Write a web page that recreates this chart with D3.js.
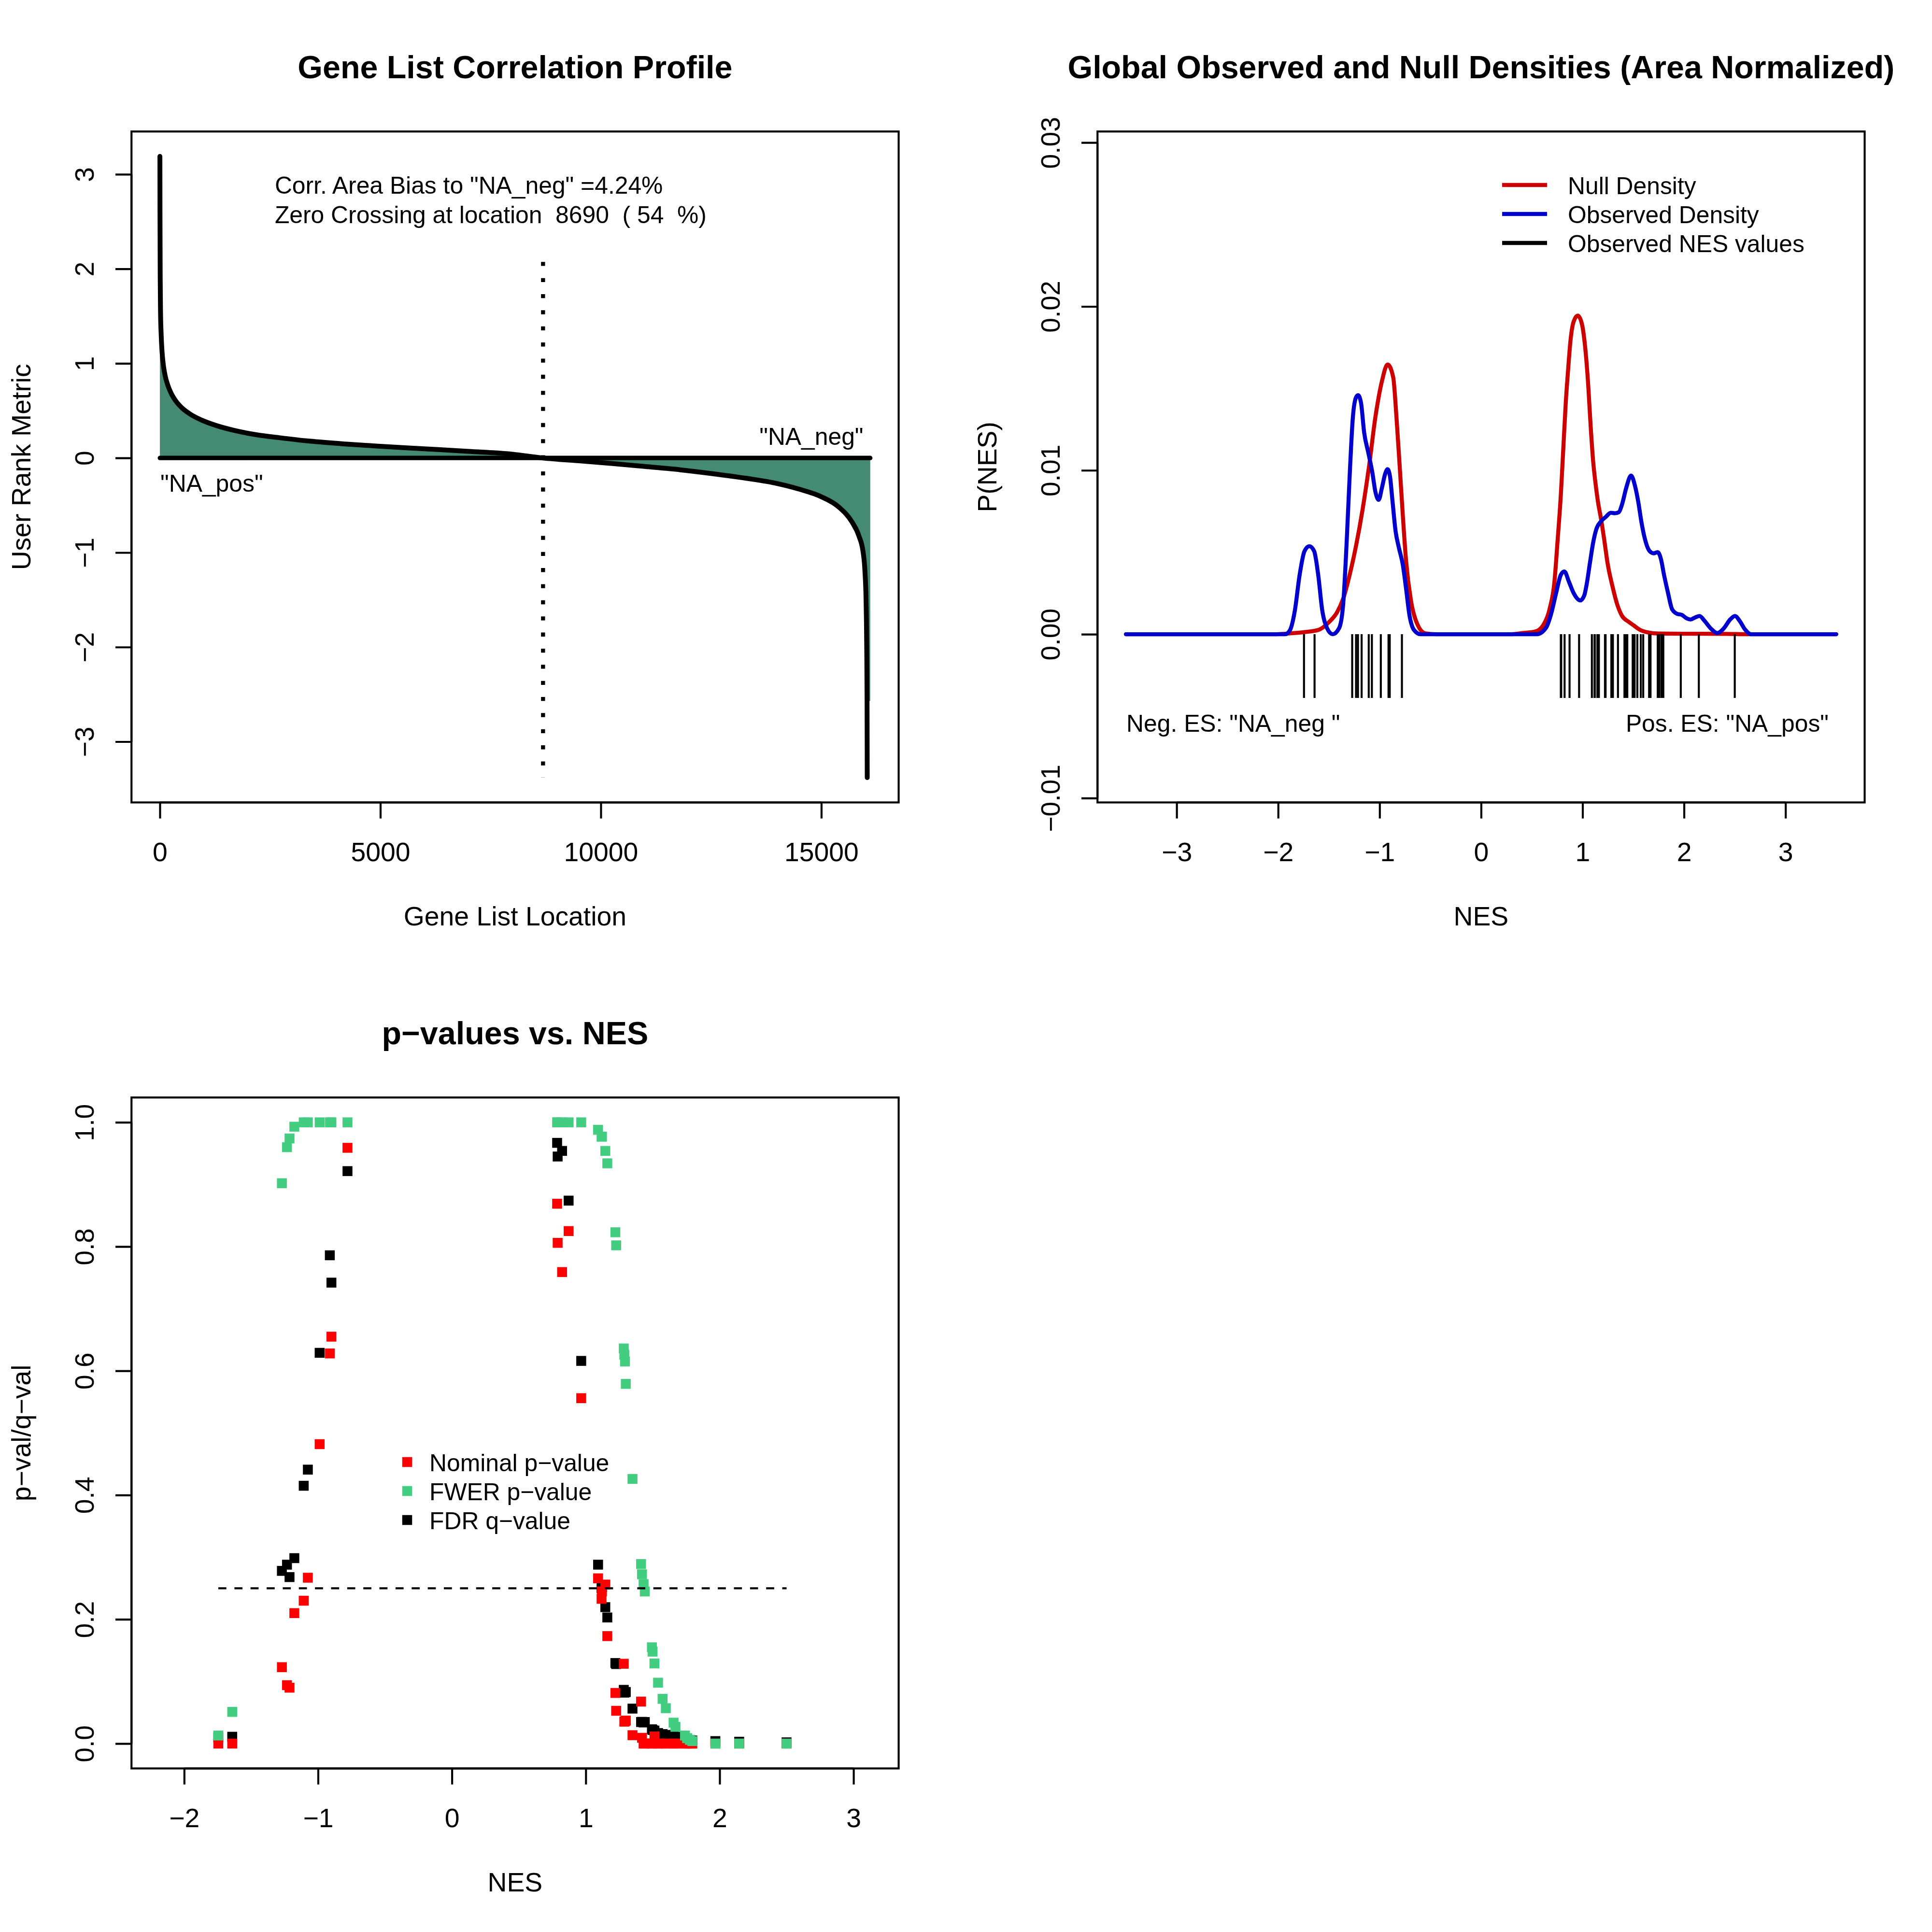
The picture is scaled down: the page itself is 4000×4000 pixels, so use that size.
<!DOCTYPE html>
<html>
<head>
<meta charset="utf-8">
<script src="https://cdn.jsdelivr.net/npm/d3@7/dist/d3.min.js"></script>
<style>
html,body{margin:0;padding:0;background:#ffffff;}
svg{display:block;}
</style>
</head>
<body>
<svg id="chart" width="4000" height="4000" xmlns="http://www.w3.org/2000/svg"></svg>
<script>
// ================= DATA =================
// Panel 1: ranked gene list metric (sampled along the sorted list)
const listSize = 16110;
const profileLocation = [1, 3, 8, 15, 30, 50, 80, 120, 180, 250, 350, 500, 700, 950, 1300, 1700, 2200, 2700, 3400, 4200,
  5000, 6000, 7000, 8000, 8690, 9500, 10300, 11000, 11800, 12600, 13300, 14000, 14500, 15000, 15400, 15700, 15850, 15950,
  15990, 16015, 16030, 16038, 16042];
const profileMetric = [3.19, 2.6, 1.9, 1.55, 1.3, 1.12, 0.98, 0.87, 0.77, 0.69, 0.61, 0.53, 0.46, 0.40, 0.34, 0.29, 0.245, 0.215, 0.178, 0.148,
  0.124, 0.097, 0.070, 0.040, 0.0, -0.03, -0.06, -0.09, -0.125, -0.17, -0.215, -0.27, -0.33, -0.41, -0.52, -0.68, -0.82, -1.0,
  -1.2, -1.5, -2.0, -2.57, -3.38];
const zeroCrossingLocation = 8690;
const profileNotes = ['Corr. Area Bias to "NA_neg" =4.24%', 'Zero Crossing at location  8690  ( 54  %)'];

// Panel 2: densities
const nullGrid = [-3.5, -2.03, -1.93, -1.74, -1.6, -1.5, -1.42, -1.358, -1.295, -1.231, -1.168, -1.104, -1.041, -0.977, -0.921,
  -0.866, -0.834, -0.802, -0.771, -0.739, -0.691, -0.628, -0.548, -0.437, 0.3, 0.405, 0.532, 0.612, 0.675, 0.723, 0.754, 0.786,
  0.81, 0.834, 0.858, 0.882, 0.913, 0.953, 0.993, 1.025, 1.056, 1.08, 1.104, 1.128, 1.152, 1.184, 1.215, 1.247, 1.295, 1.342,
  1.39, 1.454, 1.501, 1.565, 1.644, 1.756, 2.0, 2.4, 2.66, 3.5];
const nullDensity = [0, 0, 0.00003, 0.00013, 0.00027, 0.00073, 0.00133, 0.00218, 0.00362, 0.00543, 0.0076, 0.01025, 0.01327,
  0.01544, 0.01646, 0.01568, 0.01327, 0.01025, 0.00724, 0.00447, 0.00206, 0.00061, 0.00005, 0, 0, 0.00007, 0.00016, 0.00055,
  0.00153, 0.0032, 0.00571, 0.0085, 0.01129, 0.01407, 0.01616, 0.01797, 0.01909, 0.01944, 0.01895, 0.01756, 0.01519, 0.01268,
  0.01059, 0.0092, 0.00808, 0.00697, 0.00571, 0.00432, 0.00292, 0.00181, 0.00111, 0.00076, 0.00055, 0.00027, 0.00011, 0.00004,
  0.00003, 0.00002, 0, 0];
const observedGrid = [-3.5, -1.93, -1.883, -1.835, -1.788, -1.74, -1.692, -1.645, -1.605, -1.565, -1.518, -1.462, -1.399, -1.359,
  -1.326, -1.295, -1.263, -1.231, -1.212, -1.183, -1.152, -1.112, -1.072, -1.041, -1.009, -0.977, -0.946, -0.922, -0.898, -0.874,
  -0.842, -0.811, -0.771, -0.739, -0.707, -0.66, -0.596, 0.55, 0.643, 0.691, 0.739, 0.786, 0.821, 0.866, 0.913, 0.977, 1.017,
  1.041, 1.072, 1.104, 1.136, 1.184, 1.231, 1.279, 1.319, 1.358, 1.39, 1.43, 1.478, 1.517, 1.549, 1.581, 1.613, 1.66, 1.7, 1.74,
  1.772, 1.803, 1.843, 1.882, 1.93, 1.978, 2.026, 2.065, 2.105, 2.153, 2.2, 2.264, 2.327, 2.391, 2.455, 2.502, 2.55, 2.6, 2.66, 3.5];
const observedDensity = [0, 0, 0.00025, 0.00145, 0.00362, 0.00507, 0.00537, 0.00507, 0.00362, 0.00145, 0.00037, 0, 0.00037,
  0.00182, 0.00543, 0.00965, 0.01327, 0.01447, 0.01459, 0.01411, 0.0123, 0.0111, 0.00989, 0.00868, 0.0082, 0.00893, 0.00977,
  0.01007, 0.00965, 0.0082, 0.00627, 0.00531, 0.00423, 0.00278, 0.00121, 0.00025, 0, 0, 0.00042, 0.00125, 0.0025, 0.00362,
  0.00383, 0.0032, 0.0025, 0.00206, 0.00237, 0.00306, 0.00432, 0.00557, 0.00641, 0.0069, 0.00717, 0.00741, 0.00738, 0.00745,
  0.00794, 0.00892, 0.00968, 0.00905, 0.00808, 0.00682, 0.00585, 0.00508, 0.00494, 0.00501, 0.0046, 0.00362, 0.0025, 0.00153,
  0.00125, 0.00118, 0.00097, 0.0009, 0.00101, 0.00111, 0.00083, 0.00035, 0.00007, 0.00035, 0.0009, 0.00111, 0.0008, 0.0003, 0, 0];
const densityLegend = ["Null Density", "Observed Density", "Observed NES values"];
const densityNotes = ['Neg. ES: "NA_neg "', 'Pos. ES: "NA_pos"'];

// Panel 3 (and rug of panel 2): gene set NES and significance
const nesValues = [-1.745, -1.641, -1.270, -1.232, -1.213, -1.177, -1.107, -1.076, -0.988, -0.912, -0.900, -0.780,
  0.786, 0.790, 0.823, 0.872, 0.966, 1.092, 1.118, 1.121, 1.146, 1.161, 1.221, 1.227, 1.284, 1.288, 1.293, 1.299, 1.349,
  1.413, 1.420, 1.432, 1.441, 1.494, 1.499, 1.513, 1.540, 1.574, 1.598, 1.656, 1.670, 1.741, 1.757, 1.778, 1.796, 1.968,
  2.146, 2.500];
const nominalP = [0, 0, 0.123, 0.094, 0.090, 0.210, 0.230, 0.267, 0.482, 0.628, 0.655, 0.959,
  0.869, 0.806, 0.759, 0.825, 0.556, 0.266, 0.233, 0.245, 0.256, 0.173, 0.0815, 0.0528, 0.1285, 0.0353, 0.036, 0.037, 0.0135,
  0.0676, 0.0093, 0, 0, 0, 0, 0.0114, 0, 0, 0, 0, 0, 0, 0, 0, 0, 0, 0, 0];
const fwerP = [0.013, 0.051, 0.902, 0.960, 0.974, 0.993, 1, 1, 1, 1, 1, 1,
  1, 1, 1, 1, 1, 0.988, 0.977, 0.977, 0.954, 0.934, 0.823, 0.802, 0.636, 0.626, 0.615, 0.579, 0.426,
  0.289, 0.2725, 0.2567, 0.2448, 0.155, 0.148, 0.129, 0.098, 0.072, 0.057, 0.0337, 0.027, 0.013, 0.0088, 0.006, 0.004, 0,
  0, 0];
const fdrQ = [0.010, 0.011, 0.278, 0.288, 0.268, 0.2985, 0.415, 0.441, 0.629, 0.786, 0.742, 0.9215,
  0.967, 0.945, 0.954, 0.874, 0.616, 0.288, 0.250, 0.252, 0.2196, 0.203, 0.1297, 0.128, 0.0865, 0.082, 0.083, 0.083, 0.0563,
  0.0347, 0.035, 0.034, 0.0347, 0.023, 0.022, 0.021, 0.017, 0.0153, 0.014, 0.012, 0.011, 0.008, 0.007, 0.006, 0.005, 0.004,
  0.003, 0.002];
const fdrThreshold = 0.25;
const pvalLegend = ["Nominal p\u2212value", "FWER p\u2212value", "FDR q\u2212value"];

// Ticks
const profileXTicks = [0, 5000, 10000, 15000];
const profileYTicks = [-3, -2, -1, 0, 1, 2, 3];
const densityXTicks = [-3, -2, -1, 0, 1, 2, 3];
const densityYTicks = [-0.01, 0, 0.01, 0.02, 0.03];
const pvalXTicks = [-2, -1, 0, 1, 2, 3];
const pvalYTicks = [0, 0.2, 0.4, 0.6, 0.8, 1.0];

// ================= STYLE / LAYOUT =================
const FF = '"Liberation Sans", Arial, Helvetica, sans-serif';
const LINE = 66.4;          // one margin line in px
const LWD = 4.17;           // lwd = 1
const FS = 55.3, FS_TITLE = 66.4, FS_NOTE = 49.8;
const COL_FILL = "#458B74", COL_NULL = "#CD0000", COL_OBS = "#0000CD";
const COL_NOM = "#FF0000", COL_FWER = "#43CD80", COL_FDR = "#000000";

const svg = d3.select("#chart");
svg.append("rect").attr("width", 4000).attr("height", 4000).attr("fill", "#fff");

function region(ox, oy) {
  return { ox, oy, left: ox + 4.1 * LINE, right: ox + 2000 - 2.1 * LINE, top: oy + 4.1 * LINE, bottom: oy + 2000 - 5.1 * LINE };
}
function ext([a, b]) { const d = (b - a) * 0.04; return [a - d, b + d]; }

function frame(r, x, y, xt, yt, xf, yf, title, xlab, ylab) {
  const g = svg.append("g");
  const ax = g.append("g").attr("transform", `translate(0,${r.bottom})`)
    .call(d3.axisBottom(x).tickValues(xt).tickFormat(xf).tickSize(0.5 * LINE).tickSizeOuter(0));
  ax.select(".domain").remove();
  ax.append("line").attr("x1", x(xt[0])).attr("x2", x(xt[xt.length - 1])).attr("stroke", "#000").attr("stroke-width", LWD);
  ax.attr("font-size", FS).attr("font-family", FF);
  ax.selectAll(".tick line").attr("stroke-width", LWD);
  ax.selectAll(".tick text").attr("y", 121.6).attr("dy", null).attr("fill", "#000");

  const ay = g.append("g").attr("transform", `translate(${r.left},0)`)
    .call(d3.axisLeft(y).tickValues(yt).tickFormat(yf).tickSize(0.5 * LINE).tickSizeOuter(0));
  ay.select(".domain").remove();
  ay.append("line").attr("y1", y(yt[0])).attr("y2", y(yt[yt.length - 1])).attr("stroke", "#000").attr("stroke-width", LWD);
  ay.attr("font-size", FS).attr("font-family", FF);
  ay.selectAll(".tick line").attr("stroke-width", LWD);
  ay.selectAll(".tick text").attr("x", 0).attr("dy", null).attr("text-anchor", "middle")
    .attr("transform", "translate(-78,0) rotate(-90)").attr("fill", "#000");

  g.append("rect").attr("x", r.left).attr("y", r.top).attr("width", r.right - r.left).attr("height", r.bottom - r.top)
    .attr("fill", "none").attr("stroke", "#000").attr("stroke-width", LWD);

  const cx = (r.left + r.right) / 2, cy = (r.top + r.bottom) / 2;
  g.append("text").attr("x", cx).attr("y", r.oy + 162).attr("text-anchor", "middle")
    .attr("font-family", FF).attr("font-size", FS_TITLE).attr("font-weight", "bold").text(title);
  g.append("text").attr("x", cx).attr("y", r.bottom + 254.6).attr("text-anchor", "middle")
    .attr("font-family", FF).attr("font-size", FS).text(xlab);
  g.append("text").attr("transform", `translate(${r.ox + 63},${cy}) rotate(-90)`).attr("text-anchor", "middle")
    .attr("font-family", FF).attr("font-size", FS).text(ylab);
  return g;
}

function label(g, x, y, txt, anchor) {
  g.append("text").attr("x", x).attr("y", y).attr("text-anchor", anchor || "start")
    .attr("font-family", FF).attr("font-size", FS_NOTE).style("white-space", "pre").text(txt);
}

// ================= PANEL 1 =================
(function () {
  const r = region(0, 0);
  const x = d3.scaleLinear().domain(ext([profileLocation[0], listSize])).range([r.left, r.right]);
  const y = d3.scaleLinear().domain(ext(d3.extent(profileMetric))).range([r.bottom, r.top]);
  const pts = profileLocation.map((l, i) => [l, profileMetric[i]]);
  const n = pts.length;
  const g = svg.append("g");
  // fill: all points but the last, closed at the end of the list
  const fillPts = pts.slice(0, n - 1).concat([[listSize, pts[n - 2][1]]]);
  g.append("path").datum(fillPts)
    .attr("d", d3.area().x(d => x(d[0])).y0(y(0)).y1(d => y(d[1])).curve(d3.curveMonotoneX))
    .attr("fill", COL_FILL).attr("stroke", "none");
  g.append("path").datum(pts)
    .attr("d", d3.line().x(d => x(d[0])).y(d => y(d[1])).curve(d3.curveMonotoneX))
    .attr("fill", "none").attr("stroke", "#000").attr("stroke-width", 2.4 * LWD)
    .attr("stroke-linejoin", "round").attr("stroke-linecap", "round");
  g.append("line").attr("x1", x(profileLocation[0])).attr("x2", x(listSize))
    .attr("y1", y(0)).attr("y2", y(0)).attr("stroke", "#000").attr("stroke-width", 2.2 * LWD).attr("stroke-linecap", "round");
  const pmax = d3.max(profileMetric), pmin = d3.min(profileMetric);
  g.append("line").attr("x1", x(zeroCrossingLocation)).attr("x2", x(zeroCrossingLocation))
    .attr("y1", y(0.65 * pmax)).attr("y2", y(pmin))
    .attr("stroke", "#000").attr("stroke-width", 2 * LWD).attr("stroke-dasharray", `${2 * LWD},${6 * LWD}`);
  label(g, x(2606), y(2.795), profileNotes[0]);
  label(g, x(2606), y(2.483), profileNotes[1]);
  label(g, x(13596), y(0.139), '"NA_neg"');
  label(g, x(12), y(-0.3565), '"NA_pos"');
  frame(r, x, y, profileXTicks, profileYTicks, d3.format("d"), d3.format("d"),
    "Gene List Correlation Profile", "Gene List Location", "User Rank Metric");
})();

// ================= PANEL 2 =================
(function () {
  const r = region(2000, 0);
  const x = d3.scaleLinear().domain(ext(d3.extent(nullGrid))).range([r.left, r.right]);
  const mx = d3.max(nullDensity);
  const y = d3.scaleLinear().domain(ext([-0.45 * mx, 1.5 * mx])).range([r.bottom, r.top]);
  const g = svg.append("g");
  const ln = d3.line().x(d => x(d[0])).y(d => y(d[1])).curve(d3.curveMonotoneX);
  g.append("path").datum(nullGrid.map((v, i) => [v, nullDensity[i]])).attr("d", ln)
    .attr("fill", "none").attr("stroke", COL_NULL).attr("stroke-width", 2 * LWD).attr("stroke-linejoin", "round").attr("stroke-linecap", "round");
  g.append("path").datum(observedGrid.map((v, i) => [v, observedDensity[i]])).attr("d", ln)
    .attr("fill", "none").attr("stroke", COL_OBS).attr("stroke-width", 2 * LWD).attr("stroke-linejoin", "round").attr("stroke-linecap", "round");
  g.selectAll("line.rug").data(nesValues).join("line").attr("class", "rug")
    .attr("x1", d => x(d)).attr("x2", d => x(d)).attr("y1", y(0)).attr("y2", y(-0.2 * mx))
    .attr("stroke", "#000").attr("stroke-width", LWD);
  label(g, x(-3.495), y(-0.00595), densityNotes[0]);
  label(g, x(3.425), y(-0.00595), densityNotes[1], "end");
  const legCols = [COL_NULL, COL_OBS, "#000"];
  densityLegend.forEach((t, i) => {
    const yy = 383 + 60 * i;
    g.append("line").attr("x1", 3110).attr("x2", 3203).attr("y1", yy).attr("y2", yy)
      .attr("stroke", legCols[i]).attr("stroke-width", 2 * LWD);
    label(g, 3246, yy + 18.5, t);
  });
  frame(r, x, y, densityXTicks, densityYTicks, d3.format("d"), d3.format(".2f"),
    "Global Observed and Null Densities (Area Normalized)", "NES", "P(NES)");
})();

// ================= PANEL 3 =================
(function () {
  const r = region(0, 2000);
  const [nmin, nmax] = d3.extent(nesValues);
  const x = d3.scaleLinear().domain(ext([1.25 * nmin, 1.25 * nmax])).range([r.left, r.right]);
  const y = d3.scaleLinear().domain(ext([0, 1])).range([r.bottom, r.top]);
  const g = svg.append("g");
  const S = 20.5;
  const series = [[fdrQ, COL_FDR], [nominalP, COL_NOM], [fwerP, COL_FWER]];
  series.forEach(([vals, col]) => {
    g.append("g").selectAll("rect").data(nesValues.map((nv, i) => [nv, vals[i]])).join("rect")
      .attr("x", d => x(d[0]) - S / 2).attr("y", d => y(d[1]) - S / 2).attr("width", S).attr("height", S)
      .attr("fill", col);
  });
  g.append("line").attr("x1", x(nmin)).attr("x2", x(nmax)).attr("y1", y(fdrThreshold)).attr("y2", y(fdrThreshold))
    .attr("stroke", "#000").attr("stroke-width", LWD).attr("stroke-dasharray", `${4 * LWD},${4 * LWD}`);
  const legCols = [COL_NOM, COL_FWER, COL_FDR];
  pvalLegend.forEach((t, i) => {
    const yy = 3027 + 60 * i;
    g.append("rect").attr("x", 843 - S / 2).attr("y", yy - S / 2).attr("width", S).attr("height", S).attr("fill", legCols[i]);
    label(g, 889, yy + 18.5, t);
  });
  frame(r, x, y, pvalXTicks, pvalYTicks, d3.format(".0f"), d3.format(".1f"),
    "p\u2212values vs. NES", "NES", "p\u2212val/q\u2212val");
})();
</script>
</body>
</html>
